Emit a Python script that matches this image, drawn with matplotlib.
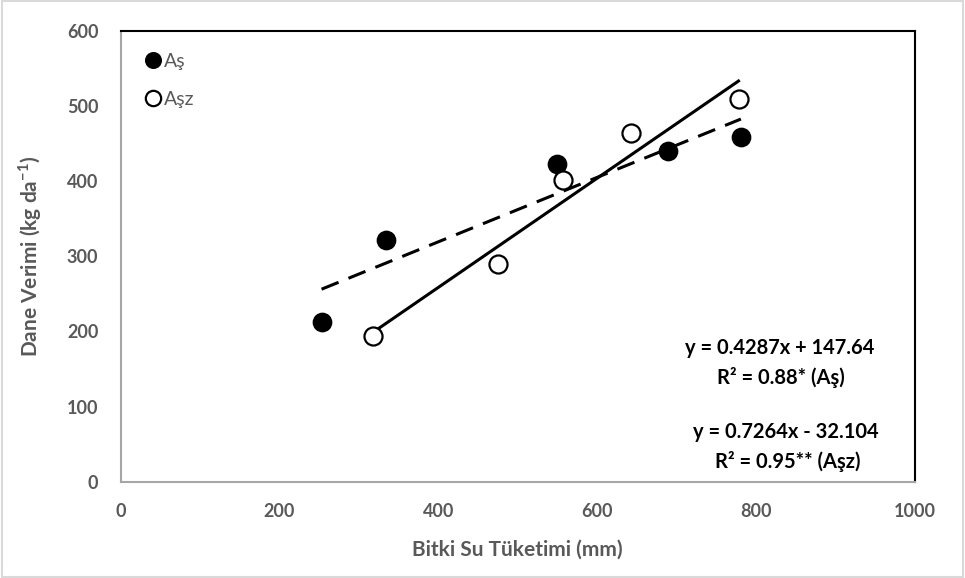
import matplotlib.pyplot as plt
from matplotlib.patches import Rectangle

plt.rcParams['font.family'] = ['Lato', 'DejaVu Sans']

# su tüketimi (mm) ve dane verimi (kg/da)
as_x = [253, 334, 549, 689, 781]
as_y = [213, 322, 423, 440, 459]
asz_x = [318, 475, 557, 643, 778]
asz_y = [194, 290, 401, 464, 509]

# trend denklemleri
as_a, as_b = 0.4287, 147.64
asz_a, asz_b = 0.7264, -32.104

xticks = [0, 200, 400, 600, 800, 1000]
yticks = [0, 100, 200, 300, 400, 500, 600]

gray = '#595959'

fig = plt.figure(figsize=(9.65, 5.78), dpi=100)
ax = fig.add_axes([0.125, 0.1666, 0.823, 0.7803])

# trend çizgileri
xs = [min(as_x), max(as_x)]
ax.plot(xs, [as_a * v + as_b for v in xs], color='black', lw=2.2,
        dashes=(6, 3.5), zorder=2)
xs = [min(asz_x), max(asz_x)]
ax.plot(xs, [asz_a * v + asz_b for v in xs], color='black', lw=2.2, zorder=2)

ax.plot(as_x, as_y, 'o', ms=13, mfc='black', mec='black', mew=1.2,
        label='Aş', zorder=3)
ax.plot(asz_x, asz_y, 'o', ms=13, mfc='white', mec='black', mew=1.6,
        label='Aşz', zorder=3)

ax.set_xlim(0, 1000)
ax.set_ylim(0, 600)
ax.set_xticks(xticks)
ax.set_yticks(yticks)
ax.tick_params(length=0, labelsize=13, labelcolor=gray)
ax.tick_params(axis='x', pad=15)
ax.tick_params(axis='y', pad=16)
for t in ax.get_xticklabels() + ax.get_yticklabels():
    t.set_fontweight('bold')

for s in ['top', 'right']:
    ax.spines[s].set_color('black')
    ax.spines[s].set_linewidth(1.5)
for s in ['left', 'bottom']:
    ax.spines[s].set_color('#a6a6a6')
    ax.spines[s].set_linewidth(1.5)

ax.set_xlabel('Bitki Su Tüketimi (mm)', fontsize=15, fontweight='bold',
              color=gray)
ax.set_ylabel('Dane Verimi (kg da$^{\\mathregular{-1}}$)', fontsize=15,
              fontweight='bold', color=gray)
ax.xaxis.set_label_coords(0.5, -0.128)
ax.yaxis.set_label_coords(-0.097, 0.5)

leg = ax.legend(loc='upper left', bbox_to_anchor=(0.005, 0.99), frameon=False,
                fontsize=14, handletextpad=0.0, labelspacing=1.1,
                markerscale=0.85, handlelength=1.1, borderaxespad=0.5)
for t in leg.get_texts():
    t.set_color(gray)

eq = dict(ha='center', va='center', fontsize=14.5, fontweight='bold',
          color='black', transform=ax.transAxes)
ax.text(0.830, 0.296, 'y = 0.4287x + 147.64', **eq)
ax.text(0.831, 0.230, 'R² = 0.88* (Aş)', **eq)
ax.text(0.838, 0.110, 'y = 0.7264x - 32.104', **eq)
ax.text(0.840, 0.044, 'R² = 0.95** (Aşz)', **eq)

fig.patches.append(Rectangle((0.002, 0.002), 0.996, 0.996,
                             transform=fig.transFigure, fill=False,
                             edgecolor='#d9d9d9', lw=1.5))

fig.savefig('out.png', dpi=100)
